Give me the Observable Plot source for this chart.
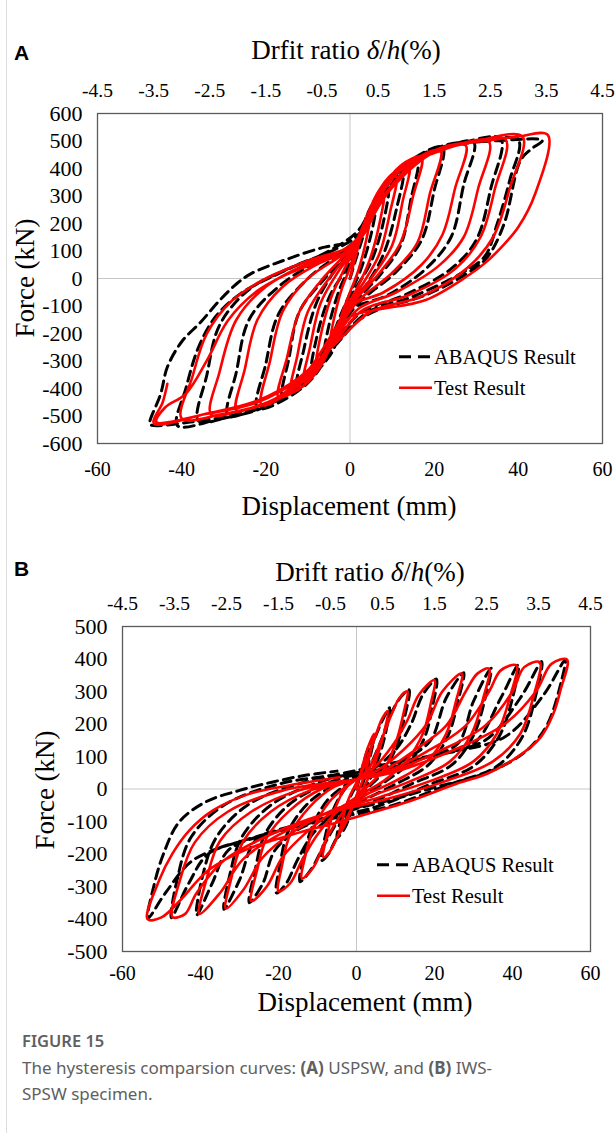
<!DOCTYPE html>
<html><head><meta charset="utf-8">
<script src="https://cdn.jsdelivr.net/npm/d3@7"></script>
<script src="https://cdn.jsdelivr.net/npm/@observablehq/plot@0.6"></script>
<style>
body{margin:0;background:#fff;}
#page{position:relative;width:615px;height:1133px;overflow:hidden;font-family:"Liberation Serif","Times New Roman",serif;color:#000;}
#page svg.plot{position:absolute;left:0;}
#page svg.plot text{font-family:"Liberation Serif","Times New Roman",serif;fill:#000;}
.abs{position:absolute;white-space:nowrap;}
.c{transform:translate(-50%,-50%);}
.letter{font-family:"Liberation Sans",Arial,sans-serif;font-weight:bold;font-size:21px;line-height:1;transform:translate(0,-50%);}
.title{font-size:27px;line-height:1;}
.ylab{font-size:27px;line-height:1;transform:translate(-50%,-50%) rotate(-90deg);}
.leg{font-size:20.5px;line-height:1;display:flex;align-items:center;transform:translate(0,-50%);}
.leg svg{display:block;margin-right:2px;}
.cap{font-family:"Noto Sans","Open Sans",sans-serif;color:#606060;}
#border{position:absolute;left:6px;top:0;width:1px;height:1133px;background:#dcdcdc;}
</style></head>
<body>
<div id="page">
  <div id="border"></div>
  <div class="abs letter" style="left:14px;top:52px;">A</div>
  <div class="abs c title" style="left:346px;top:50px;">Drfit ratio <i>δ</i>/<i>h</i>(%)</div>
  <div class="abs ylab" style="left:25px;top:278px;">Force (kN)</div>
  <div class="abs c title" style="left:349px;top:506px;">Displacement (mm)</div>

  <div class="abs letter" style="left:14px;top:568px;">B</div>
  <div class="abs c title" style="left:370px;top:572px;">Drift ratio <i>δ</i>/<i>h</i>(%)</div>
  <div class="abs ylab" style="left:45px;top:790px;">Force (kN)</div>
  <div class="abs c title" style="left:365px;top:1002px;">Displacement (mm)</div>

  <div class="abs cap" style="left:22px;top:1029px;font-size:16.5px;font-weight:600;">FIGURE 15</div>
  <div class="abs cap" style="left:22px;top:1055px;font-size:17px;line-height:26px;">The hysteresis comparsion curves: <b>(A)</b> USPSW, and <b>(B)</b> IWS-<br>SPSW specimen.</div>
</div>
<script>
// ---------------- data ----------------
const dispTicks = [-60, -40, -20, 0, 20, 40, 60];
const driftTicks = [-4.5, -3.5, -2.5, -1.5, -0.5, 0.5, 1.5, 2.5, 3.5, 4.5];
const mmPerDriftPct = 60 / 4.5;
const forceTicksA = [-600,-500,-400,-300,-200,-100,0,100,200,300,400,500,600];
const forceTicksB = [-500,-400,-300,-200,-100,0,100,200,300,400,500];
const seriesNames = ["ABAQUS Result", "Test Result"];

// Panel A (USPSW) — ABAQUS, cycles of [displacement mm, force kN]
const abaqusA = [
 [[0,0],[2,100],[4,190],[6,250],[5,160],[2.5,30],[0,-55],[-2,-125],[-4,-200],[-6,-260],[-5,-170],[-2.5,-40],[0,45]],
 [[2,140],[5,260],[9,330],[8,210],[5,60],[1,-45],[-2,-135],[-5,-260],[-9,-330],[-8,-220],[-5,-70],[-1,35]],
 [[2,130],[6,280],[9,350],[12.5,390],[11,250],[8,90],[4,-20],[0,-95],[-3,-195],[-7,-320],[-12.5,-392],[-11,-260],[-8,-90],[-4,20],[0,95]],
 [[3,180],[7,315],[12,400],[16,430],[14.5,290],[12,120],[7,10],[1,-90],[-3,-205],[-8,-345],[-12,-405],[-16,-435],[-14.5,-290],[-12,-120],[-6,0],[0,100]],
 [[3,170],[8,320],[14,425],[22,477],[20,320],[17,140],[11,25],[2,-90],[-3,-195],[-9,-355],[-15,-435],[-22,-472],[-20,-310],[-17,-130],[-10,0],[-2,95]],
 [[3,165],[9,325],[16,440],[23,480],[29.4,496],[27,340],[24,150],[18,35],[9,-60],[0,-115],[-4,-210],[-10,-350],[-18,-450],[-24,-485],[-29,-498],[-27,-340],[-24,-150],[-17,-30],[-8,60],[0,115]],
 [[3,175],[10,340],[18,452],[27,495],[35.8,508],[33.5,330],[30,140],[24,35],[13,-60],[3,-120],[-3,-215],[-11,-365],[-20,-465],[-29,-505],[-36,-518],[-34,-350],[-31,-170],[-24,-40],[-14,40],[-3,110]],
 [[2,160],[10,345],[20,467],[30,496],[40,503],[38,360],[35,200],[32,80],[26,15],[15,-65],[4,-125],[-3,-235],[-12,-385],[-22,-475],[-32,-515],[-41,-535],[-39,-400],[-36,-250],[-32,-140],[-26,-55],[-16,25],[-5,100]],
 [[2,175],[6,290],[11,390],[22,482],[34,500],[45.7,502],[43,470],[40.5,429],[36.6,198],[32.6,77],[28,20],[18,-60],[5,-125],[-2,-205],[-5,-285],[-12,-395],[-25,-485],[-38,-522],[-47.6,-531],[-47.5,-516],[-45,-420],[-43.4,-322],[-40,-230],[-35.5,-159],[-31,-80],[-27,-20],[-23.6,17],[-15,70],[-6,114],[0,127]]
];
// Panel A (USPSW) — Test
const testA = [
 [[0,0],[1.5,90],[3,170],[5,240],[4,150],[2,30],[0,-50],[-1.5,-110],[-3,-180],[-5,-250],[-4,-160],[-2,-40],[0,40]],
 [[2,140],[4.5,240],[8,310],[7,200],[4.5,60],[1.5,-40],[-1.5,-120],[-4.5,-240],[-8,-320],[-7,-210],[-4.5,-70],[-1.5,30]],
 [[1.5,120],[4.5,240],[8,330],[11,370],[9.5,240],[7,90],[3,-20],[0,-85],[-3,-180],[-7,-310],[-11,-375],[-9.5,-250],[-7,-90],[-3,20],[0,85]],
 [[2.5,170],[6.5,310],[10,380],[14,410],[12.5,280],[10,120],[5,0],[0,-95],[-3,-190],[-7,-320],[-11,-390],[-14,-415],[-12.5,-280],[-10,-120],[-5,0],[0,95]],
 [[3,170],[7,310],[12,410],[17,442],[15,300],[12,130],[7,20],[1,-85],[-3,-200],[-8,-340],[-13,-410],[-17,-432],[-15,-290],[-12,-120],[-7,-10],[-1,90]],
 [[3,165],[8,320],[14,420],[21.5,465],[19,310],[16,130],[10,20],[2,-80],[-3,-185],[-9,-340],[-15,-420],[-21,-460],[-19,-300],[-16,-120],[-10,0],[-2,85]],
 [[3,155],[8,300],[15,420],[21,462],[27.5,484],[25,330],[22,160],[17,50],[8,-50],[0,-100],[-4,-195],[-10,-335],[-17,-430],[-23,-468],[-27,-480],[-25,-330],[-22,-150],[-16,-30],[-8,50],[0,105]],
 [[3,170],[9,320],[17,440],[25,485],[33,498],[30.5,330],[27,150],[21,45],[11,-50],[2,-110],[-3,-205],[-10,-345],[-18,-440],[-26,-480],[-33,-495],[-31,-340],[-27,-150],[-20,-30],[-10,55],[-1,110]],
 [[3,165],[9,315],[18,445],[28,492],[37,505],[34.5,330],[31,150],[25,35],[14,-60],[3,-115],[-3,-220],[-11,-360],[-20,-455],[-30,-492],[-40,-509],[-37.5,-360],[-34,-200],[-28,-80],[-20,0],[-9,70],[0,115]],
 [[3,170],[10,330],[20,460],[30,500],[41,516],[38,330],[34,150],[28,40],[17,-65],[5,-120],[-3,-230],[-12,-365],[-22,-450],[-34,-492],[-46,-522],[-44,-470],[-39,-419],[-34,-298],[-29,-153],[-22,-45],[-15,15],[-6,70],[0,120]],
 [[2,150],[4,210],[7,296],[11,380],[22,477],[33,502],[40,516],[47,522],[44,308],[40,187],[36,114],[32,55],[28,10],[18,-78],[6,-115],[0,-140],[-4,-237],[-12,-359],[-22,-444],[-34,-491],[-46.6,-527],[-44.5,-450],[-43.4,-383]]
];
// Panel B (IWS-SPSW) — ABAQUS
const abaqusB = [
 [[0,0],[1.5,65],[3,125],[4.5,160],[3.5,100],[2,30],[0,-25],[-1.5,-75],[-3,-120],[-5,-150],[-4,-95],[-2,-35],[0,15]],
 [[2,65],[4.5,150],[7,220],[8.5,250],[7.5,175],[5.5,90],[3,20],[0,-35],[-3,-100],[-5.5,-160],[-7.5,-205],[-9,-220],[-8,-145],[-6,-65],[-3,0],[0,35]],
 [[3,65],[6,140],[9,235],[11.5,285],[13.5,305],[12.5,230],[10.5,140],[7,55],[3,5],[0,-30],[-4,-85],[-8,-165],[-11.5,-245],[-14.5,-285],[-13.5,-205],[-11.5,-120],[-7.5,-35],[-3,10],[0,35]],
 [[4,60],[10,120],[14,200],[17,290],[20.5,338],[19.5,255],[17.5,160],[13.5,80],[7,20],[0,-35],[-6,-80],[-11,-135],[-15,-215],[-18,-290],[-20.5,-320],[-19.5,-225],[-17.5,-130],[-12.5,-45],[-6,10],[0,40]],
 [[6,55],[13,95],[19,150],[23,280],[27.5,358],[26,270],[23.5,165],[18.5,75],[10,15],[0,-45],[-8,-90],[-15,-125],[-21,-190],[-24,-290],[-27.5,-350],[-26,-250],[-23.5,-140],[-17.5,-50],[-9,10],[0,45]],
 [[7,60],[18,98],[26,140],[30,270],[34.5,372],[33,280],[30,165],[24.5,75],[14,15],[2,-50],[-10,-95],[-20,-130],[-26,-160],[-30,-280],[-34,-370],[-32.5,-265],[-29.5,-150],[-22,-50],[-11,15],[0,50]],
 [[8,62],[18,98],[30,139],[37,280],[41.5,383],[40,280],[36.5,160],[30,70],[19,15],[5,-55],[-12,-100],[-25.8,-148],[-33,-190],[-37,-290],[-41,-388],[-39.5,-270],[-36,-150],[-28,-50],[-15,15],[0,50]],
 [[9,65],[20,105],[33,150],[42,280],[47.5,392],[46,290],[42.5,160],[36,70],[24,15],[8,-55],[-10,-100],[-26,-150],[-38,-200],[-43,-290],[-47.5,-396],[-46,-280],[-42.5,-150],[-34,-50],[-20,15],[-5,45]],
 [[5,70],[22,110],[38,160],[48,290],[53.5,397],[52.5,330],[49,200],[44.6,129],[38.6,78],[30,36],[20,5],[10,-30],[0,-60],[-12,-105],[-28,-155],[-42,-220],[-49,-320],[-53.5,-398],[-52,-300],[-49.5,-200],[-45.5,-102],[-38.7,-40],[-30.2,-5],[-21.7,21],[-13.1,42],[-5,55]]
];
// Panel B (IWS-SPSW) — Test
const testB = [
 [[0,0],[1.5,70],[3,130],[4.5,170],[3.5,110],[2,40],[0,-20],[-1.5,-70],[-3,-110],[-4.5,-140],[-3.5,-90],[-2,-30],[0,20]],
 [[2,70],[4.5,150],[6.5,215],[8,240],[7,170],[5,90],[2.5,20],[0,-30],[-2.5,-90],[-5,-150],[-7,-195],[-8.5,-210],[-7.5,-140],[-5.5,-60],[-3,0],[0,30]],
 [[3,60],[6,140],[9,230],[11,280],[13,300],[12,230],[10,140],[7,60],[3,10],[0,-25],[-4,-80],[-8,-160],[-11,-240],[-14,-275],[-13,-200],[-11,-120],[-7,-40],[-3,5],[0,30]],
 [[4,60],[9,130],[13,210],[16,290],[20,335],[19,260],[17,170],[13,90],[7,25],[0,-25],[-5,-70],[-10,-140],[-14,-220],[-17,-290],[-20,-315],[-19,-230],[-17,-140],[-12,-55],[-6,5],[0,30]],
 [[5,55],[12,120],[18,200],[22,300],[27,356],[25.5,270],[23,170],[18,85],[10,25],[1,-25],[-6,-70],[-13,-135],[-19,-210],[-23,-300],[-27,-345],[-25.5,-250],[-23,-150],[-17,-65],[-9,0],[0,30]],
 [[6,50],[15,120],[23,195],[28,300],[31,355],[34,370],[32.5,280],[29.5,170],[24,85],[14,25],[3,-25],[-7,-70],[-16,-130],[-24,-210],[-29,-310],[-33.5,-368],[-32,-270],[-29,-160],[-22,-70],[-12,-5],[0,30]],
 [[7,50],[18,115],[28,195],[34,300],[37,365],[41,380],[39.5,290],[36,170],[30,85],[19,25],[6,-25],[-8,-75],[-19,-135],[-29,-215],[-35,-320],[-40.3,-384],[-38.5,-280],[-35,-160],[-27,-70],[-15,-5],[0,30]],
 [[8,50],[21,115],[33,195],[40,300],[43,375],[47,390],[45.5,290],[42,170],[35,85],[23,25],[8,-30],[-9,-80],[-22,-140],[-34,-220],[-41,-320],[-44,-385],[-47.2,-394],[-45.5,-290],[-41.5,-165],[-33,-70],[-19,-5],[0,30]],
 [[9,50],[24,115],[38,200],[46,300],[50,385],[54,398],[52.3,304],[50.5,232],[47.2,159],[41.2,98],[33.5,47],[25.8,17],[13,-40],[4.4,-71],[-4,-100],[-15,-135],[-28,-185],[-38,-250],[-45,-340],[-50,-395],[-53.6,-400],[-50.6,-281],[-47.2,-199],[-42.9,-128],[-36.8,-66],[-27.5,-15],[-17.3,11],[-4.4,36]]
];

// ---------------- drawing ----------------
function rowsOf(cycles, series) {
  const out = [];
  cycles.forEach((cyc, ci) => cyc.forEach(([d, f]) => out.push({d, f, series, cycle: ci})));
  return out;
}
const fmt = d => String(d);

function panel({abaqus, test, forceTicks, yDomain, height, top, mLeft, mRight, mTop, mBottom, bottomPad, legendAt}) {
  const black = rowsOf(abaqus, seriesNames[0]);
  const red = rowsOf(test, seriesNames[1]);
  const chart = Plot.plot({
    width: 615, height,
    marginLeft: mLeft, marginRight: mRight, marginTop: mTop, marginBottom: mBottom,
    x: {domain: [-60, 60]},
    y: {domain: yDomain},
    style: {fontFamily: '"Liberation Serif","Times New Roman",serif', fontSize: "19.5px", color: "#000", background: "transparent", overflow: "visible"},
    marks: [
      Plot.ruleX([0], {stroke: "#c6c6c6", strokeWidth: 1}),
      Plot.ruleY([0], {stroke: "#c6c6c6", strokeWidth: 1}),
      Plot.line(black, {x: "d", y: "f", stroke: "#000", strokeWidth: 3, strokeDasharray: "10,6", curve: "catmull-rom"}),
      Plot.line(red, {x: "d", y: "f", stroke: "#ff0000", strokeWidth: 2.6, curve: "catmull-rom"}),
      Plot.frame({stroke: "#5a5a5a", strokeWidth: 1.3}),
      Plot.axisY(forceTicks, {tickSize: 0, tickPadding: 15, tickFormat: fmt, label: null, fontSize: 22}),
      Plot.axisX(dispTicks, {anchor: "bottom", tickSize: 0, tickPadding: bottomPad, tickFormat: fmt, label: null, fontSize: 20}),
      Plot.axisX(driftTicks.map(v => v * mmPerDriftPct), {anchor: "top", tickSize: 0, tickPadding: 17,
        tickFormat: d => (d / mmPerDriftPct).toFixed(1), label: null, fontSize: 19.5})
    ]
  });
  chart.classList.add("plot");
  chart.style.top = top + "px";
  document.getElementById("page").appendChild(chart);

  // legend (inside plot area)
  const items = [
    {name: seriesNames[0], stroke: "#000", dash: "12,7", w: 3},
    {name: seriesNames[1], stroke: "#ff0000", dash: null, w: 2.6}
  ];
  items.forEach((it, i) => {
    const row = document.createElement("div");
    row.className = "abs leg";
    row.style.left = legendAt[0] + "px";
    row.style.top = (legendAt[1] + i * 31) + "px";
    row.innerHTML = `<svg width="33" height="8"><line x1="0" y1="4" x2="33" y2="4" stroke="${it.stroke}" stroke-width="${it.w}" ${it.dash ? `stroke-dasharray="${it.dash}"` : ""}/></svg><span>${it.name}</span>`;
    document.getElementById("page").appendChild(row);
  });
}

panel({abaqus: abaqusA, test: testA, forceTicks: forceTicksA, yDomain: [-600, 600],
  height: 530, top: 0, mLeft: 97, mRight: 13, mTop: 113, mBottom: 87, bottomPad: 18, legendAt: [399, 357]});
panel({abaqus: abaqusB, test: testB, forceTicks: forceTicksB, yDomain: [-500, 500],
  height: 490, top: 530, mLeft: 122, mRight: 25, mTop: 96, mBottom: 69, bottomPad: 14, legendAt: [377, 865]});
</script>
</body></html>
